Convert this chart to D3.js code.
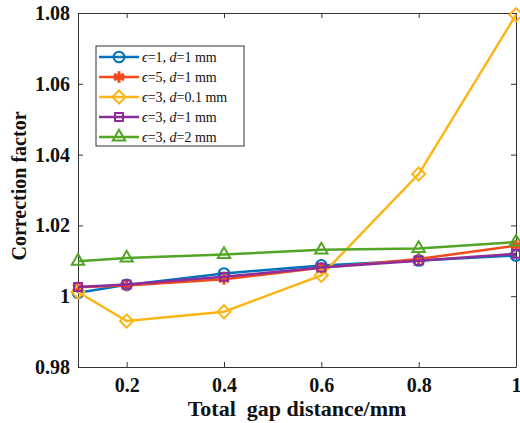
<!DOCTYPE html>
<html>
<head>
<meta charset="utf-8">
<script src="https://cdn.jsdelivr.net/npm/d3@7"></script>
<style>
  body { margin: 0; background: #fff; }
  svg text { font-family: "Liberation Serif", "Times New Roman", serif; }
</style>
</head>
<body>
<script>
// gap distances (mm)
var gaps = [0.1, 0.2, 0.4, 0.6, 0.8, 1.0];

// correction factor per case
var eps1_d1   = [1.0010, 1.0032, 1.0064, 1.0087, 1.0101, 1.0115];
var eps5_d1   = [1.0025, 1.0030, 1.0048, 1.0080, 1.0105, 1.0143];
var eps3_d01  = [1.0012, 0.9930, 0.9956, 1.0059, 1.0345, 1.0795];
var eps3_d1   = [1.0026, 1.0033, 1.0055, 1.0081, 1.0100, 1.0120];
var eps3_d2   = [1.0099, 1.0108, 1.0118, 1.0131, 1.0135, 1.0153];

var xTicks = [0.2, 0.4, 0.6, 0.8, 1];
var yTicks = [0.98, 1, 1.02, 1.04, 1.06, 1.08];

var series = [
    { eps: "1", d: "1",   vals: eps1_d1,  color: "#0072BD", marker: "circle" },
    { eps: "5", d: "1",   vals: eps5_d1,  color: "#F24A1A", marker: "star" },
    { eps: "3", d: "0.1", vals: eps3_d01, color: "#FDB515", marker: "diamond" },
    { eps: "3", d: "1",   vals: eps3_d1,  color: "#8C2D9A", marker: "square" },
    { eps: "3", d: "2",   vals: eps3_d2,  color: "#53A527", marker: "triangle" }
];

var W = 520, H = 423;
var margin = { top: 13, right: 4, bottom: 56, left: 78 };

var svg = d3.select("body").append("svg")
    .attr("width", W)
    .attr("height", H);

var x = d3.scaleLinear().domain([0.1, 1]).range([margin.left, W - margin.right]);
var y = d3.scaleLinear().domain([0.98, 1.08]).range([H - margin.bottom, margin.top]);

// axes box, ticks pointing inwards
var fmt = d => d3.format("~g")(d);
svg.append("g")
    .attr("transform", `translate(0,${y(0.98)})`)
    .call(d3.axisBottom(x).tickValues(xTicks).tickSize(-5).tickSizeOuter(0).tickPadding(11).tickFormat(fmt))
    .call(g => g.selectAll(".tick text").attr("font-size", 20).attr("font-weight", "bold").attr("fill", "#111"));
svg.append("g")
    .attr("transform", `translate(0,${y(1.08)})`)
    .call(d3.axisTop(x).tickValues(xTicks).tickSize(-5).tickSizeOuter(0).tickFormat(""));
svg.append("g")
    .attr("transform", `translate(${x(0.1)},0)`)
    .call(d3.axisLeft(y).tickValues(yTicks).tickSize(-5).tickSizeOuter(0).tickPadding(8).tickFormat(fmt))
    .call(g => g.selectAll(".tick text").attr("font-size", 20).attr("font-weight", "bold").attr("fill", "#111"));
svg.append("g")
    .attr("transform", `translate(${x(1)},0)`)
    .call(d3.axisRight(y).tickValues(yTicks).tickSize(-5).tickSizeOuter(0).tickFormat(""));
svg.selectAll(".domain").attr("stroke", "#333");
svg.selectAll(".tick line").attr("stroke", "#333");

// axis titles
svg.append("text")
    .attr("x", (x(0.1) + x(1)) / 2)
    .attr("y", 416)
    .attr("text-anchor", "middle")
    .attr("font-size", 22)
    .attr("font-weight", "bold")
    .attr("fill", "#111")
    .attr("xml:space", "preserve")
    .text("Total  gap distance/mm");
svg.append("text")
    .attr("transform", `translate(26,${(y(0.98) + y(1.08)) / 2 - 4}) rotate(-90)`)
    .attr("text-anchor", "middle")
    .attr("font-size", 20)
    .attr("font-weight", "bold")
    .attr("fill", "#111")
    .text("Correction factor");

var symbols = {
    circle: d3.symbol().type(d3.symbolCircle).size(90),
    star: d3.symbol().type(d3.symbolAsterisk).size(90),
    diamond: d3.symbol().type(d3.symbolDiamond2).size(110),
    square: d3.symbol().type(d3.symbolSquare2).size(80),
    triangle: d3.symbol().type(d3.symbolTriangle2).size(110)
};

var line = d3.line().x((d, i) => x(gaps[i])).y(d => y(d));

var plot = svg.append("g");
series.forEach(s => {
    plot.append("path")
        .attr("d", line(s.vals))
        .attr("fill", "none")
        .attr("stroke", s.color)
        .attr("stroke-width", 2.5);
    plot.selectAll(null)
        .data(s.vals)
        .join("path")
        .attr("transform", (d, i) => `translate(${x(gaps[i])},${y(d)})`)
        .attr("d", symbols[s.marker])
        .attr("fill", "none")
        .attr("stroke", s.color)
        .attr("stroke-width", s.marker == "star" ? 3 : 2);
});

// legend
var lg = svg.append("g").attr("transform", "translate(96,46)");
lg.append("rect")
    .attr("width", 148).attr("height", 100)
    .attr("fill", "#fff").attr("stroke", "#333").attr("stroke-width", 1);
series.forEach((s, i) => {
    var row = lg.append("g").attr("transform", `translate(0,${11 + i * 20})`);
    row.append("line")
        .attr("x1", 3).attr("x2", 43)
        .attr("stroke", s.color).attr("stroke-width", 2.5);
    row.append("path")
        .attr("transform", "translate(23,0)")
        .attr("d", symbols[s.marker])
        .attr("fill", "none")
        .attr("stroke", s.color)
        .attr("stroke-width", s.marker == "star" ? 3 : 2);
    var t = row.append("text")
        .attr("x", 46).attr("y", 5)
        .attr("font-size", 14)
        .attr("fill", "#111");
    t.append("tspan").attr("font-style", "italic").text("\u03f5");
    t.append("tspan").text("=" + s.eps + ", ");
    t.append("tspan").attr("font-style", "italic").text("d");
    t.append("tspan").text("=" + s.d + " mm");
});
</script>
</body>
</html>
